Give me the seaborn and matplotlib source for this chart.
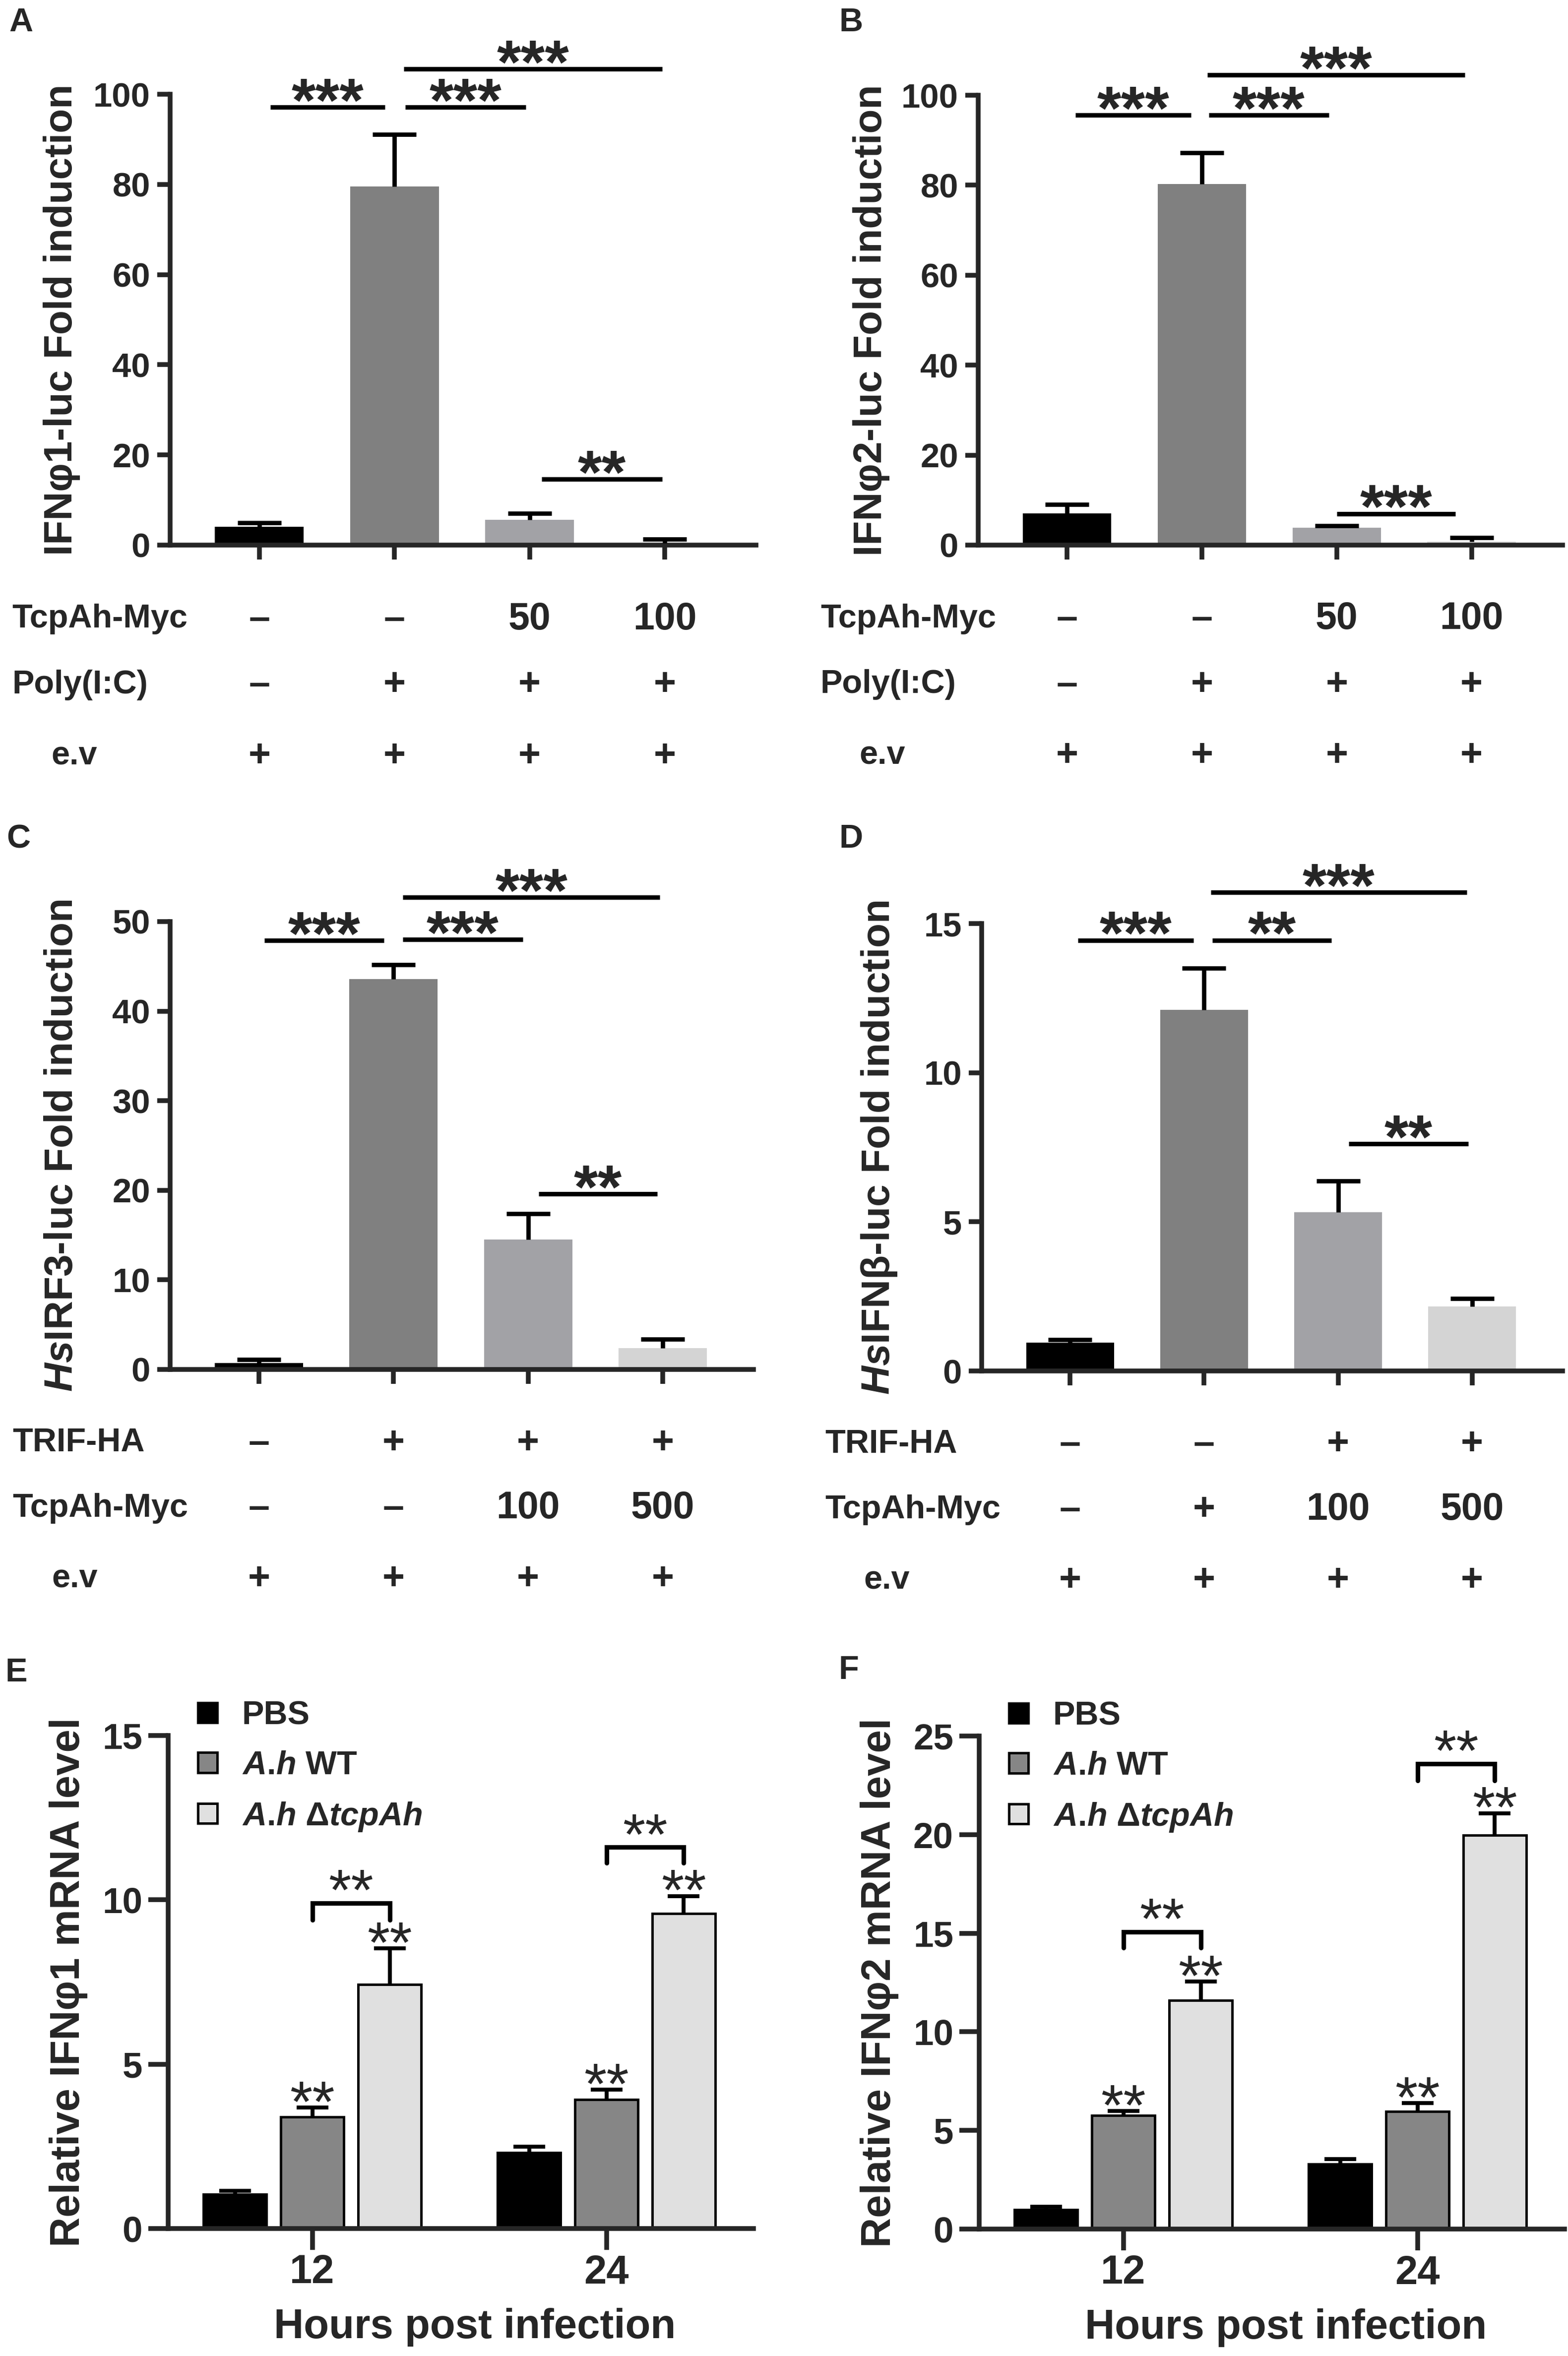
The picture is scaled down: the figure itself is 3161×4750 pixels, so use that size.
import numpy as np
import pandas as pd
import matplotlib
matplotlib.use("Agg")
import matplotlib.pyplot as plt
import seaborn as sns
from matplotlib.container import BarContainer

W, H, DPI = 3162, 4750, 300

sns.set_theme(style="ticks")
plt.rcParams["font.family"] = ["Liberation Sans", "DejaVu Sans"]
plt.rcParams["font.weight"] = "bold"
plt.rcParams["mathtext.fontset"] = "custom"
plt.rcParams["mathtext.it"] = "Liberation Sans:italic:bold"
plt.rcParams["mathtext.rm"] = "Liberation Sans:bold"
plt.rcParams["mathtext.bf"] = "Liberation Sans:bold"

# ----------------------------------------------------------------------
# data
# ----------------------------------------------------------------------
luc_colors = ["#000000", "#808080", "#a2a2a6", "#d4d4d4"]
luc_groups = ["g1", "g2", "g3", "g4"]

a_vals = [4.05, 79.5, 5.6, 0.4]
a_errs = [0.95, 11.6, 1.4, 0.95]
b_vals = [7.1, 80.3, 3.9, 0.8]
b_errs = [1.9, 6.9, 0.4, 0.8]
c_vals = [0.7, 43.6, 14.5, 2.4]
c_errs = [0.4, 1.6, 2.9, 1.0]
d_vals = [0.95, 12.1, 5.32, 2.16]
d_errs = [0.1, 1.4, 1.05, 0.27]

# significance lines: (x from, x to, height, stars)
a_sigs = [(0.08, 0.93, 97.1, "***"), (1.08, 1.97, 97.1, "***"),
          (1.07, 2.98, 105.6, "***"), (2.09, 2.98, 14.6, "**")]
b_sigs = [(0.06, 0.92, 95.6, "***"), (1.05, 1.94, 95.6, "***"),
          (1.04, 2.95, 104.5, "***"), (2.0, 2.88, 7.0, "***")]
c_sigs = [(0.04, 0.93, 47.9, "***"), (1.07, 1.96, 48.0, "***"),
          (1.07, 2.98, 52.7, "***"), (2.08, 2.96, 19.6, "**")]
d_sigs = [(0.06, 0.92, 14.44, "***"), (1.06, 1.95, 14.44, "**"),
          (1.05, 2.96, 16.05, "***"), (2.08, 2.97, 7.61, "**")]

ab_rows = [("TcpAh-Myc", ["\u2013", "\u2013", "50", "100"]),
           ("Poly(I:C)", ["\u2013", "+", "+", "+"]),
           ("e.v", ["+", "+", "+", "+"])]
c_rows = [("TRIF-HA", ["\u2013", "+", "+", "+"]),
          ("TcpAh-Myc", ["\u2013", "\u2013", "100", "500"]),
          ("e.v", ["+", "+", "+", "+"])]
d_rows = [("TRIF-HA", ["\u2013", "\u2013", "+", "+"]),
          ("TcpAh-Myc", ["\u2013", "+", "100", "500"]),
          ("e.v", ["+", "+", "+", "+"])]

time_points = ["12", "24"]
inf_groups = ["PBS", r"$\mathit{A}$.$\mathit{h}$ WT",
              r"$\mathit{A}$.$\mathit{h}$ $\mathit{ΔtcpAh}$"]
inf_colors = ["#000000", "#868686", "#e0e0e0"]

e_pbs, e_pbs_err = [1.04, 2.31], [0.1, 0.18]
e_wt, e_wt_err = [3.40, 3.92], [0.28, 0.30]
e_ko, e_ko_err = [7.43, 9.58], [1.09, 0.53]
e_brackets = [(9.38, 9.9), (11.12, 11.6)]

f_pbs, f_pbs_err = [0.97, 3.3], [0.15, 0.24]
f_wt, f_wt_err = [5.76, 5.96], [0.22, 0.42]
f_ko, f_ko_err = [11.59, 19.96], [0.95, 1.12]
f_brackets = [(14.25, 15.07), (22.73, 23.6)]

row_y = [-0.164, -0.31, -0.468]

fig = plt.figure(figsize=(W / DPI, H / DPI), dpi=DPI)


def px_axes(left, right, y0, ytop):
    return fig.add_axes([left / W, 1 - y0 / H, (right - left) / W, (y0 - ytop) / H])


def sorted_bars(ax):
    bars = [b for c in ax.containers if isinstance(c, BarContainer) for b in c]
    bars = sorted(bars, key=lambda p: p.get_x())
    return [b.get_x() + b.get_width() / 2 for b in bars], [b.get_height() for b in bars]


def up_errors(ax, errs, lw, cap):
    xs, ys = sorted_bars(ax)
    eb = ax.errorbar(xs, ys, yerr=[np.zeros(len(errs)), errs], fmt="none",
                     ecolor="black", elinewidth=lw, capsize=cap, capthick=lw,
                     zorder=3)
    eb[1][0].set_visible(False)
    for art in list(eb[1]) + list(eb[2]):
        art.set_clip_on(False)
    return xs, ys


def style_axes(ax, lw=2.3):
    sns.despine(ax=ax)
    for sp in ("left", "bottom"):
        ax.spines[sp].set_linewidth(lw)
    ax.set_facecolor("none")


def luc_panel(ax, vals, errs, ytop, ystep, ylabel, label_x, sigs, rows):
    sns.barplot(x=luc_groups, y=vals, hue=luc_groups, palette=luc_colors,
                width=0.656, saturation=1, linewidth=0, legend=False, ax=ax)
    up_errors(ax, errs, 2.1, 10.6)
    ax.set_xlim(-0.66, 3.675)
    ax.set_ylim(0, ytop)
    ax.set_yticks(np.arange(0, ytop + 0.1, ystep))
    ax.set_xticks(range(4))
    ax.set_xticklabels([])
    ax.tick_params(axis="x", length=7, width=2.3)
    ax.tick_params(axis="y", length=6.2, width=2.3, labelsize=16.5, pad=3.4)
    for lab in ax.get_yticklabels():
        lab.set_fontweight("bold")
    ax.set_xlabel("")
    ax.set_ylabel(ylabel, fontsize=19.3, fontweight="bold")
    ax.yaxis.set_label_coords(label_x, 0.5)
    style_axes(ax)
    for x1, x2, y, txt in sigs:
        ax.plot([x1, x2], [y, y], color="black", lw=2.2, clip_on=False,
                solid_capstyle="butt")
        ax.annotate(txt, xy=((x1 + x2) / 2, y), xytext=(0, -6.8),
                    textcoords="offset points", ha="center", va="baseline",
                    fontsize=30, fontweight="bold", annotation_clip=False)
    tr = ax.get_xaxis_transform()
    for (name, marks), yy in zip(rows, row_y):
        ax.text(-0.203 if name == "e.v" else -0.27, yy, name, transform=ax.transAxes,
                ha="left", va="center", fontsize=16, fontweight="bold")
        for i, m in enumerate(marks):
            ax.text(i, yy, m, transform=tr, ha="center", va="center",
                    fontsize=18.5, fontweight="bold")


def infection_panel(ax, pbs, pbs_err, wt, wt_err, ko, ko_err, ytop, ylabel, brackets):
    df = pd.DataFrame({
        "hours": np.repeat(time_points, 3),
        "group": inf_groups * 2,
        "value": [v for t in range(2) for v in (pbs[t], wt[t], ko[t])],
    })
    errs = [v for t in range(2) for v in (pbs_err[t], wt_err[t], ko_err[t])]
    sns.barplot(data=df, x="hours", y="value", hue="group", hue_order=inf_groups,
                palette=inf_colors, width=0.789, gap=0.186, saturation=1,
                edgecolor="black", linewidth=1.2, ax=ax)
    xs, ys = up_errors(ax, errs, 1.9, 7.7)
    ax.set_xlim(-0.49, 1.50)
    ax.set_ylim(0, ytop)
    ax.set_yticks(np.arange(0, ytop + 0.1, 5))
    ax.tick_params(axis="x", length=10.3, width=2.3, labelsize=19.5, pad=2)
    ax.tick_params(axis="y", length=9.5, width=2.3, labelsize=17.5, pad=3)
    for lab in ax.get_yticklabels() + ax.get_xticklabels():
        lab.set_fontweight("bold")
    ax.set_ylabel(ylabel, fontsize=20, fontweight="bold")
    ax.yaxis.set_label_coords(-0.137, 0.5)
    ax.set_xlabel("Hours post infection", fontsize=20, fontweight="bold")
    ax.xaxis.set_label_coords(0.524, -0.161)
    style_axes(ax)
    # stars over infected groups
    for i in range(len(xs)):
        if i % 3 == 0:
            continue
        ax.annotate("**", xy=(xs[i], ys[i] + errs[i]), xytext=(0, -6.8),
                    textcoords="offset points", ha="center", va="baseline",
                    fontsize=28, fontweight="normal", annotation_clip=False)
    # brackets WT vs knockout
    for t, (yb, yt) in enumerate(brackets):
        x1, x2 = xs[3 * t + 1], xs[3 * t + 2]
        ax.plot([x1, x1, x2, x2], [yb, yt, yt, yb], color="black", lw=2.2,
                clip_on=False, solid_joinstyle="miter")
        ax.annotate("**", xy=((x1 + x2) / 2, yt), xytext=(0, -3.4),
                    textcoords="offset points", ha="center", va="baseline",
                    fontsize=28, fontweight="normal", annotation_clip=False)
    handles, labels = ax.get_legend_handles_labels()
    ax.legend(handles, labels, loc="upper left", bbox_to_anchor=(0.051, 1.071),
              frameon=False, fontsize=16, handlelength=0.58, handleheight=0.55,
              handletextpad=0.75, labelspacing=0.58, borderpad=0, borderaxespad=0)


ax_a = px_axes(343, 1524, 1099, 190)
luc_panel(ax_a, a_vals, a_errs, 100, 20, "IFNφ1-luc Fold induction", -0.153,
          a_sigs, ab_rows)
ax_b = px_axes(1972, 3150, 1099, 192)
luc_panel(ax_b, b_vals, b_errs, 100, 20, "IFNφ2-luc Fold induction", -0.151,
          b_sigs, ab_rows)
ax_c = px_axes(343, 1519, 2761, 1858)
luc_panel(ax_c, c_vals, c_errs, 50, 10, r"$\mathit{Hs}$IRF3-luc Fold induction",
          -0.153, c_sigs, c_rows)
ax_d = px_axes(1979, 3150, 2764, 1862)
luc_panel(ax_d, d_vals, d_errs, 15, 5, r"$\mathit{Hs}$IFNβ-luc Fold induction",
          -0.143, d_sigs, d_rows)

ax_e = px_axes(339, 1519, 4493, 3499)
infection_panel(ax_e, e_pbs, e_pbs_err, e_wt, e_wt_err, e_ko, e_ko_err, 15,
                "Relative IFNφ1 mRNA level", e_brackets)
ax_f = px_axes(1974, 3154, 4494, 3500)
infection_panel(ax_f, f_pbs, f_pbs_err, f_wt, f_wt_err, f_ko, f_ko_err, 25,
                "Relative IFNφ2 mRNA level", f_brackets)

for letter, (px, py) in zip("ABCDEF", [(42, 46), (1716, 46), (37, 1692),
                                       (1716, 1692), (33, 3373), (1711, 3368)]):
    fig.text(px / W, 1 - py / H, letter, ha="center", va="center",
             fontsize=16, fontweight="bold")

fig.savefig("out.png", dpi=DPI, facecolor="white")
